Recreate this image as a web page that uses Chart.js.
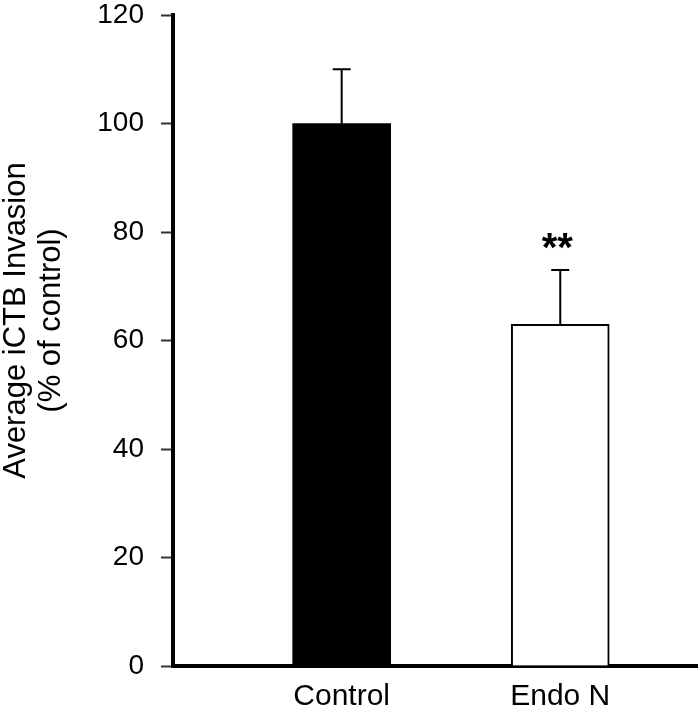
<!DOCTYPE html>
<html><head><meta charset="utf-8">
<script src="https://cdn.jsdelivr.net/npm/chart.js@4.4.1/dist/chart.umd.min.js"></script>
<style>html,body{margin:0;padding:0;background:#fff;} canvas{display:block;}</style>
</head><body>
<canvas id="c" width="700" height="714"></canvas>
<script>
const categories = ["Control", "Endo N"];
const means = [100, 63];
const errors = [10, 10];
const barFills = ["#000000", "#ffffff"];
const significance = ["", "**"];
const yTicks = [0, 20, 40, 60, 80, 100, 120];
const yTitle = ["Average iCTB Invasion", "(% of control)"];

const FONT = "'Liberation Sans', Arial, Helvetica, sans-serif";

const errorBars = {
  id: 'errorBars',
  afterDatasetsDraw(chart) {
    const ctx = chart.ctx;
    const meta = chart.getDatasetMeta(0);
    const y = chart.scales.y;
    ctx.save();
    ctx.strokeStyle = '#000';
    ctx.lineWidth = 2;
    meta.data.forEach((bar, i) => {
      const top = y.getPixelForValue(means[i] + errors[i]);
      const base = y.getPixelForValue(means[i]);
      ctx.beginPath();
      ctx.moveTo(bar.x, base);
      ctx.lineTo(bar.x, top);
      ctx.moveTo(bar.x - 9, top);
      ctx.lineTo(bar.x + 9, top);
      ctx.stroke();
      if (significance[i]) {
        ctx.fillStyle = '#000';
        ctx.font = "bold 40px " + FONT;
        ctx.textAlign = 'center';
        ctx.textBaseline = 'alphabetic';
        ctx.fillText(significance[i], bar.x - 3, top - 9);
      }
    });
    ctx.restore();
  }
};

const yTitlePlugin = {
  id: 'yTitlePlugin',
  afterDraw(chart) {
    const ctx = chart.ctx;
    const a = chart.chartArea;
    const cy = (a.top + a.bottom) / 2 - 20;
    const xs = [16, 51];
    ctx.save();
    ctx.fillStyle = '#000';
    ctx.font = "31px " + FONT;
    ctx.textAlign = 'center';
    ctx.textBaseline = 'middle';
    yTitle.forEach((line, i) => {
      ctx.save();
      ctx.translate(xs[i], cy);
      ctx.rotate(-Math.PI / 2);
      ctx.fillText(line, 0, 0);
      ctx.restore();
    });
    ctx.restore();
  }
};

new Chart(document.getElementById('c'), {
  type: 'bar',
  data: {
    datasets: [{
      data: categories.map((c, i) => ({ x: i + 1, y: means[i] })),
      backgroundColor: barFills,
      borderColor: '#000',
      borderWidth: [0, 2],
      borderSkipped: 'start',
      barThickness: 98
    }]
  },
  options: {
    responsive: false,
    animation: false,
    layout: { padding: { top: 15, right: 3, left: 0, bottom: 0 } },
    plugins: { legend: { display: false }, tooltip: { enabled: false } },
    scales: {
      x: {
        type: 'linear', min: 0.2283, max: 2.6256, offset: false,
        afterBuildTicks(s) { s.ticks = categories.map((c, i) => ({ value: i + 1 })); },
        ticks: {
          callback: (v) => categories[v - 1] ?? '',
          font: { family: FONT, size: 30, lineHeight: 1 }, color: '#000',
          padding: 16, maxRotation: 0, autoSkip: false
        },
        grid: { display: true, drawOnChartArea: false, drawTicks: false },
        border: { display: true, color: '#000', width: 4 },
        afterFit(s) { s.height = 48; s.paddingLeft = 0; s.paddingRight = 0; }
      },
      y: {
        min: 0, max: 120,
        afterBuildTicks(s) { s.ticks = yTicks.map(v => ({ value: v })); },
        ticks: { font: { family: FONT, size: 28, lineHeight: 1 }, color: '#000', padding: 17 },
        grid: { drawOnChartArea: false, drawTicks: true, tickLength: 12, tickColor: '#333', tickWidth: 2 },
        border: { display: true, color: '#000', width: 4 },
        afterFit(s) { s.width = 173; s.paddingTop = 0; s.paddingBottom = 0; }
      }
    }
  },
  plugins: [errorBars, yTitlePlugin]
});
</script>
</body></html>
